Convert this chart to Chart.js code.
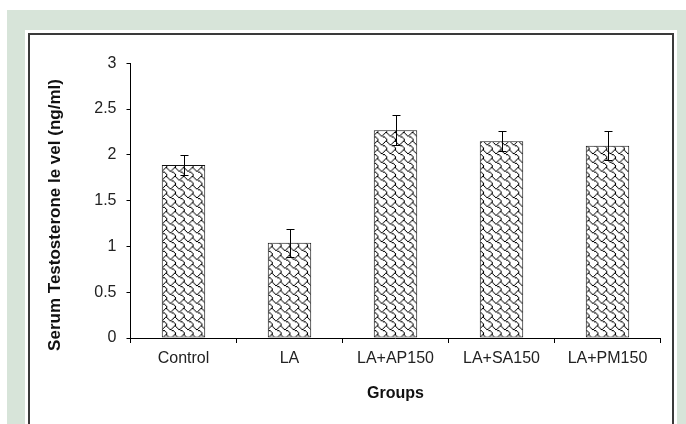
<!DOCTYPE html>
<html>
<head>
<meta charset="utf-8">
<script src="https://cdn.jsdelivr.net/npm/chart.js@4.4.1/dist/chart.umd.min.js"></script>
<style>
  html, body { margin: 0; padding: 0; background: #fff; width: 686px; height: 424px; overflow: hidden; }
  #panel { position: absolute; left: 7px; top: 10px; width: 679px; height: 414px; background: #d7e4d9; }
  #card  { position: absolute; left: 25px; top: 30px; width: 652px; height: 394px; background: #fff; }
  #frame { position: absolute; left: 28px; top: 33px; width: 646px; height: 430px; border: 2px solid #3a3a3a; box-sizing: border-box; }
  #wrap  { position: absolute; left: 0; top: 0; width: 686px; height: 424px; }
</style>
</head>
<body>
<div id="panel"></div>
<div id="card"></div>
<div id="frame"></div>
<div id="wrap"><canvas id="chart" width="686" height="424"></canvas></div>
<script>
// Serum testosterone per treatment group (mean and error)
const groups = ['Control', 'LA', 'LA+AP150', 'LA+SA150', 'LA+PM150'];
const testosterone = [1.89, 1.04, 2.27, 2.15, 2.10];
const errors = [0.11, 0.15, 0.16, 0.11, 0.16];
const yTickLabels = ['0', '0.5', '1', '1.5', '2', '2.5', '3'];

const FONT = '"Liberation Sans", Arial, sans-serif';

// 8x8 shingle hatch used as bar fill, drawn slightly enlarged
const SHINGLE = [0x03, 0x84, 0x48, 0x30, 0x0c, 0x02, 0x01, 0x01];
function shinglePattern(ctx) {
  const tile = document.createElement('canvas');
  tile.width = 8; tile.height = 8;
  const g = tile.getContext('2d');
  g.fillStyle = '#fff';
  g.fillRect(0, 0, 8, 8);
  g.fillStyle = '#000';
  SHINGLE.forEach((row, y) => {
    for (let x = 0; x < 8; x++) {
      if (row & (0x80 >> x)) g.fillRect(x, y, 1, 1);
    }
  });
  const p = ctx.createPattern(tile, 'repeat');
  p.setTransform(new DOMMatrix().scale(1.1, 1.1));
  return p;
}

// Whiskers centred on each bar top
const errorBars = {
  id: 'errorBars',
  afterDatasetsDraw(chart) {
    const { ctx, scales: { y } } = chart;
    const meta = chart.getDatasetMeta(0);
    ctx.save();
    ctx.strokeStyle = '#000';
    ctx.lineWidth = 1;
    meta.data.forEach((bar, i) => {
      const x = Math.round(bar.x) + 0.5;
      const hi = Math.round(y.getPixelForValue(testosterone[i] + errors[i])) + 0.5;
      const lo = Math.round(y.getPixelForValue(testosterone[i] - errors[i])) + 0.5;
      ctx.beginPath();
      ctx.moveTo(x, hi); ctx.lineTo(x, lo);
      ctx.moveTo(x - 4, hi); ctx.lineTo(x + 4, hi);
      ctx.moveTo(x - 4, lo); ctx.lineTo(x + 4, lo);
      ctx.stroke();
    });
    ctx.restore();
  }
};

// Rotated value-axis title
const yTitle = {
  id: 'yTitle',
  afterDraw(chart) {
    const { ctx } = chart;
    ctx.save();
    ctx.translate(55, 215);
    ctx.rotate(-Math.PI / 2);
    ctx.font = 'bold 17px ' + FONT;
    ctx.fillStyle = '#111';
    ctx.textAlign = 'center';
    ctx.textBaseline = 'middle';
    ctx.fillText('Serum Testosterone le vel (ng/ml)', 0, 0);
    ctx.restore();
  }
};

const canvas = document.getElementById('chart');
const ctx = canvas.getContext('2d');

new Chart(ctx, {
  type: 'bar',
  data: {
    labels: groups,
    datasets: [{
      data: testosterone,
      backgroundColor: shinglePattern(ctx),
      borderColor: '#111',
      borderWidth: 1,
      borderSkipped: false,
      categoryPercentage: 1,
      barPercentage: 0.41
    }]
  },
  options: {
    responsive: false,
    animation: false,
    devicePixelRatio: 1,
    layout: { padding: { left: 0, right: 25.5, top: 63.3, bottom: 0 } },
    plugins: { legend: { display: false }, tooltip: { enabled: false } },
    scales: {
      x: {
        grid: { display: true, drawOnChartArea: false, drawTicks: true, tickLength: 5, color: '#000', lineWidth: 1, offset: true },
        border: { display: true, color: '#000', width: 1 },
        ticks: { font: { family: FONT, size: 16 }, color: '#222', padding: 6, maxRotation: 0, autoSkip: false },
        title: { display: true, text: 'Groups', font: { family: FONT, size: 16, weight: 'bold' }, color: '#111', padding: { top: 0, bottom: 21 } },
        afterFit(scale) { scale.height = 86; }
      },
      y: {
        min: 0, max: 3,
        ticks: { stepSize: 0.5, font: { family: FONT, size: 16 }, color: '#222', padding: 10,
                 callback: (v, i) => yTickLabels[i] },
        grid: { drawOnChartArea: false, drawTicks: true, tickLength: 4, color: '#000', lineWidth: 1 },
        border: { display: true, color: '#000', width: 1 },
        afterFit(scale) { scale.width = 130.5; }
      }
    }
  },
  plugins: [errorBars, yTitle]
});
</script>
</body>
</html>
